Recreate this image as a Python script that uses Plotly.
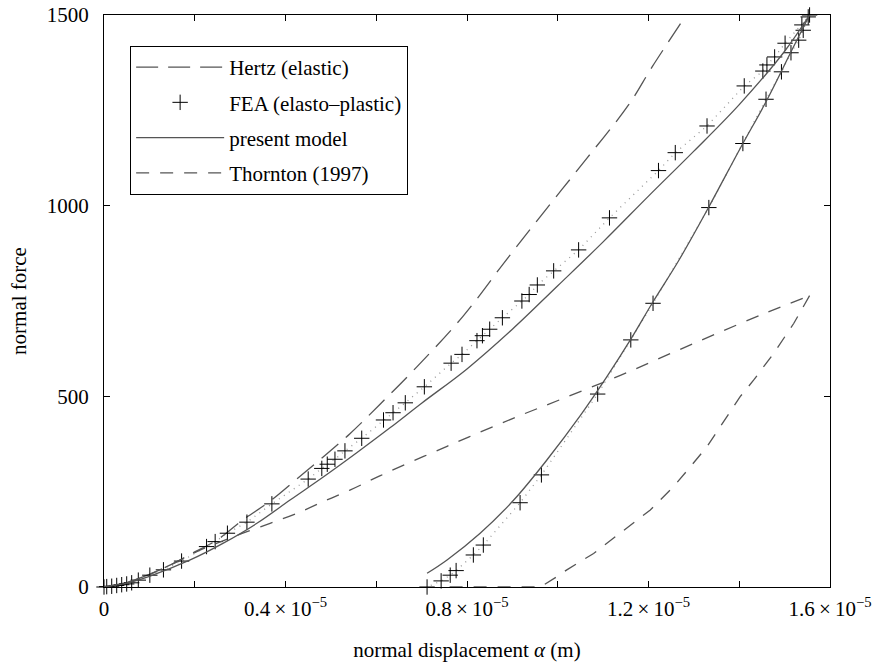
import plotly.graph_objects as go

# displacement in units of 1e-5 m, force in N
hertz_x = [0, 0.05, 0.1, 0.15, 0.2, 0.249, 0.306, 0.366, 0.425, 0.483, 0.542, 0.609, 0.69, 0.792, 0.888, 0.976, 1.064, 1.156, 1.208, 1.283]
hertz_f = [0, 12, 33, 60, 92, 123, 176, 225, 283, 341, 402, 480, 578, 711, 860, 993, 1124, 1264, 1364, 1500]

model_load_x = [0, 0.05, 0.1, 0.19, 0.263, 0.337, 0.41, 0.484, 0.557, 0.631, 0.70, 0.80, 0.90, 1.0, 1.1, 1.2, 1.3, 1.4, 1.5, 1.555]
model_load_f = [0, 10, 28, 71, 115, 167, 228, 289, 352, 418, 482, 572, 676, 790, 905, 1025, 1143, 1265, 1405, 1500]

model_unload_x = [0.712, 0.756, 0.829, 0.903, 0.976, 1.05, 1.108, 1.16, 1.211, 1.266, 1.329, 1.402, 1.461, 1.516, 1.555]
model_unload_f = [36, 71, 141, 228, 333, 450, 551, 648, 750, 855, 988, 1150, 1277, 1408, 1500]

thornton_load_x = [0, 0.05, 0.1, 0.15, 0.2, 0.226, 0.262, 0.306, 0.366, 0.425, 0.483, 0.542, 0.609, 0.756, 0.903, 1.013, 1.138, 1.248, 1.351, 1.461, 1.555]
thornton_load_f = [0, 12, 33, 60, 90, 104, 121, 141, 167, 193, 224, 254, 292, 369, 443, 495, 555, 612, 665, 720, 764]

thornton_unload_x = [1.555, 1.52, 1.476, 1.432, 1.402, 1.366, 1.329, 1.292, 1.255, 1.204, 1.138, 1.079, 1.02, 0.998, 0.962, 0.748]
thornton_unload_f = [764, 691, 613, 543, 499, 435, 368, 315, 263, 202, 141, 88, 45, 27, 0, 0]

fea_load_x = [0, 0.006, 0.017, 0.028, 0.039, 0.050, 0.061, 0.0756, 0.101, 0.131, 0.171, 0.226, 0.245, 0.272, 0.315, 0.370,
              0.450, 0.480, 0.492, 0.509, 0.531, 0.568, 0.616, 0.637, 0.664, 0.706, 0.765, 0.789, 0.822, 0.834, 0.850,
              0.878, 0.921, 0.937, 0.955, 0.991, 1.046, 1.114, 1.222, 1.259, 1.329, 1.411, 1.452, 1.461, 1.478, 1.501,
              1.538, 1.552]
fea_load_f = [0, 1, 2, 4, 6, 8, 11, 18, 31, 45, 68, 106, 119, 141, 170, 218,
              283, 311, 322, 335, 357, 390, 438, 457, 483, 525, 587, 610, 646, 659, 676,
              706, 750, 767, 792, 829, 884, 968, 1092, 1139, 1209, 1314, 1353, 1369, 1390, 1426,
              1474, 1495]

fea_unload_x = [1.555, 1.541, 1.531, 1.514, 1.493, 1.459, 1.408, 1.333, 1.21, 1.161, 1.088, 0.964, 0.917, 0.836, 0.814, 0.776, 0.763, 0.743, 0.712]
fea_unload_f = [1500, 1460, 1434, 1401, 1351, 1279, 1163, 995, 744, 648, 506, 294, 221, 110, 84, 43, 31, 16, 0]

x_tick_vals = [0, 0.4, 0.8, 1.2, 1.6]
x_tick_text = ["0", "0.4\u2009×\u200910<sup>−5</sup>", "0.8\u2009×\u200910<sup>−5</sup>",
               "1.2\u2009×\u200910<sup>−5</sup>", "1.6\u2009×\u200910<sup>−5</sup>"]
y_tick_vals = [0, 500, 1000, 1500]

FONT = '"Liberation Serif", "Times New Roman", serif'
LINE_GREY = "#555555"
FS = 21

fig = go.Figure()

fig.add_trace(go.Scatter(x=hertz_x, y=hertz_f, mode="lines", name="Hertz (elastic)",
                         legendgroup="a", line_shape="spline",
                         line=dict(color=LINE_GREY, width=1.3, dash="22px,10px")))

fig.add_trace(go.Scatter(x=fea_load_x, y=fea_load_f, mode="lines", showlegend=False, legendgroup="b",
                         line=dict(color="#9a9a9a", width=1.3, dash="1px,5px")))
fig.add_trace(go.Scatter(x=fea_unload_x, y=fea_unload_f, mode="lines", showlegend=False, legendgroup="b",
                         line=dict(color="#9a9a9a", width=1.3, dash="1px,5px")))
fig.add_trace(go.Scatter(x=fea_load_x + fea_unload_x, y=fea_load_f + fea_unload_f, mode="markers",
                         name="FEA (elasto–plastic)", legendgroup="b", cliponaxis=False,
                         marker=dict(symbol="cross-thin", size=11, color="black",
                                     line=dict(color="black", width=1))))

fig.add_trace(go.Scatter(x=model_load_x, y=model_load_f, mode="lines", name="present model",
                         legendgroup="c", line_shape="spline", line=dict(color=LINE_GREY, width=1.3)))
fig.add_trace(go.Scatter(x=model_unload_x, y=model_unload_f, mode="lines", showlegend=False,
                         legendgroup="c", line_shape="spline", line=dict(color=LINE_GREY, width=1.3)))

fig.add_trace(go.Scatter(x=thornton_load_x, y=thornton_load_f, mode="lines", name="Thornton (1997)",
                         legendgroup="d", line_shape="spline",
                         line=dict(color=LINE_GREY, width=1.3, dash="13px,11px")))
fig.add_trace(go.Scatter(x=thornton_unload_x, y=thornton_unload_f, mode="lines", showlegend=False,
                         legendgroup="d", cliponaxis=False,
                         line=dict(color=LINE_GREY, width=1.3, dash="13px,11px")))

fig.update_layout(
    width=875, height=666,
    margin=dict(l=104, r=45, t=15, b=79, autoexpand=False),
    paper_bgcolor="white", plot_bgcolor="white",
    font=dict(family=FONT, size=FS, color="black"),
    showlegend=True,
    legend=dict(x=0.036, y=0.946, xanchor="left", yanchor="top",
                bordercolor="black", borderwidth=1, bgcolor="white",
                font=dict(family=FONT, size=FS, color="black"),
                itemwidth=88, tracegroupgap=5, traceorder="grouped"),
    xaxis=dict(range=[0, 1.6], tickvals=x_tick_vals, ticktext=x_tick_text,
               ticks="inside", ticklen=6, tickcolor="black", tickwidth=1,
               minor=dict(dtick=0.2, tick0=0, ticks="inside", ticklen=6, tickcolor="black", tickwidth=1),
               showline=True, linecolor="black", linewidth=1, mirror="ticks",
               showgrid=False, zeroline=False, ticklabelstandoff=3, automargin=False,
               tickfont=dict(family=FONT, size=FS),
               title=dict(text="normal displacement <i>α</i> (m)", standoff=22,
                          font=dict(family=FONT, size=FS))),
    yaxis=dict(range=[0, 1500], tickvals=y_tick_vals,
               ticks="inside", ticklen=6, tickcolor="black", tickwidth=1,
               showline=True, linecolor="black", linewidth=1, mirror="ticks",
               showgrid=False, zeroline=False, ticklabelstandoff=10, automargin=False,
               tickfont=dict(family=FONT, size=FS),
               title=dict(text="normal force", standoff=14,
                          font=dict(family=FONT, size=FS))),
)

fig.write_html("out.html", config={"displayModeBar": False},
               post_script="document.body.style.margin='0';")
